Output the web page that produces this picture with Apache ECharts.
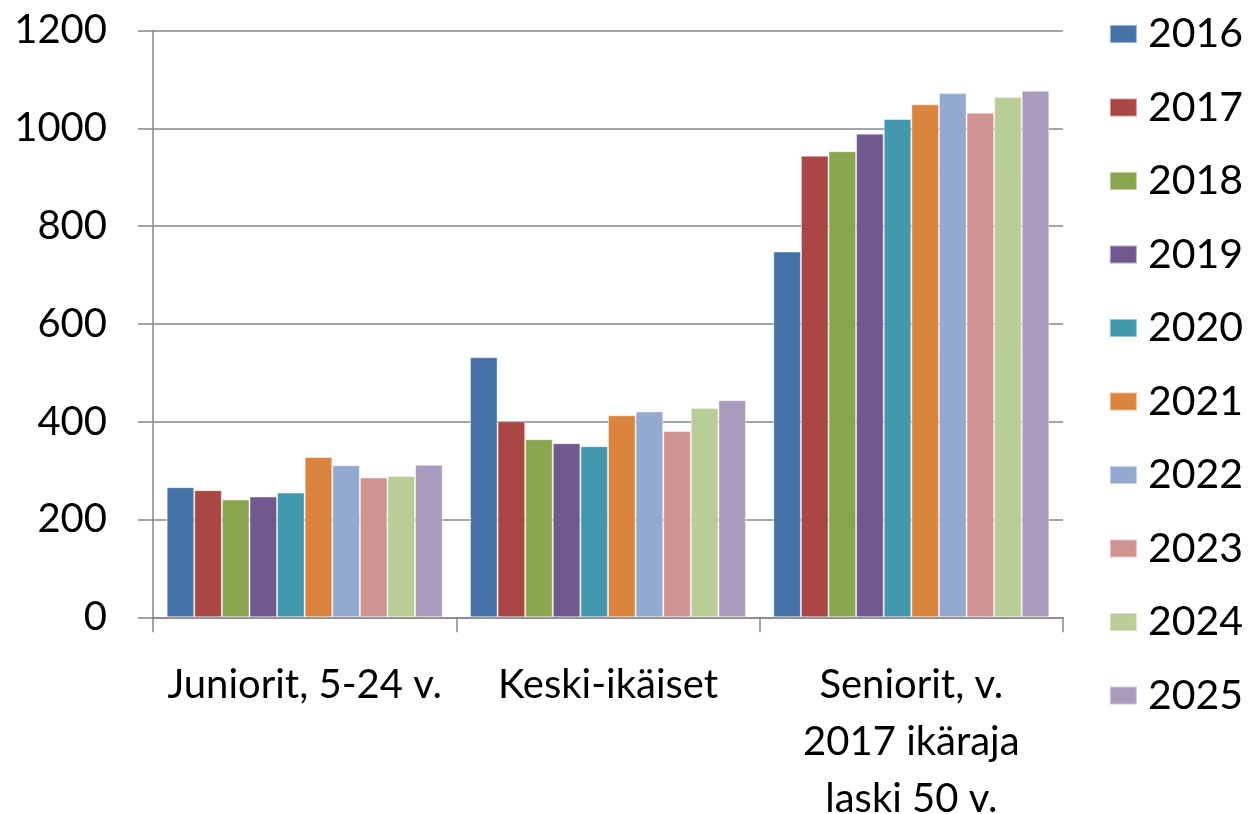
<!DOCTYPE html>
<html lang="fi">
<head>
<meta charset="utf-8">
<title>Jäsenmäärät ikäryhmittäin</title>
<script src="https://cdn.jsdelivr.net/npm/echarts@6/dist/echarts.min.js"></script>
<style>
  html, body { margin: 0; padding: 0; background: #fff; }
  #kaavio { width: 1250px; height: 814px; }
</style>
</head>
<body>
<div id="kaavio"></div>
<script>
// ryhmät (x-akseli)
var ryhmat = ['Juniorit, 5-24 v.', 'Keski-ikäiset', 'Seniorit, v.\n2017 ikäraja\nlaski 50 v.'];
var vuodet = ['2016', '2017', '2018', '2019', '2020', '2021', '2022', '2023', '2024', '2025'];
var varit = ['#4572A7', '#AA4643', '#89A54E', '#71588F', '#4198AF', '#DB843D', '#93A9CF', '#D19392', '#B9CD96', '#A99BBD'];

// arvot vuosittain: [juniorit, keski-ikäiset, seniorit]
var v2016 = [266, 532, 748];
var v2017 = [260, 401, 944];
var v2018 = [241, 364, 953];
var v2019 = [247, 356, 989];
var v2020 = [255, 350, 1019];
var v2021 = [328, 413, 1049];
var v2022 = [311, 421, 1072];
var v2023 = [286, 381, 1032];
var v2024 = [289, 428, 1064];
var v2025 = [312, 444, 1077];
var arvot = [v2016, v2017, v2018, v2019, v2020, v2021, v2022, v2023, v2024, v2025];

var fontti = 'Lato, "Open Sans", sans-serif';
var harmaa = '#878787';

var chart = echarts.init(document.getElementById('kaavio'));

var sarjat = vuodet.map(function (v, i) {
  return {
    name: v,
    type: 'bar',
    data: arvot[i],
    barGap: '0%',
    barCategoryGap: '9%',
    itemStyle: { color: varit[i], borderColor: 'rgba(255,255,255,0.45)', borderWidth: 1 },
    animation: false
  };
});

chart.setOption({
  animation: false,
  textStyle: { fontFamily: fontti },
  grid: { left: 153, right: 187, top: 30.5, bottom: 196.7, containLabel: false, outerBoundsMode: 'none' },
  legend: {
    orient: 'vertical',
    right: 2,
    top: 7,
    itemWidth: 27,
    itemHeight: 18,
    itemGap: 29.5,
    icon: 'rect',
    data: vuodet,
    textStyle: { fontFamily: fontti, fontSize: 41, color: '#000', lineHeight: 44, padding: [0, 0, 0, 6] }
  },
  xAxis: {
    type: 'category',
    data: ryhmat,
    axisLine: { lineStyle: { color: harmaa, width: 1.5 } },
    axisTick: { show: true, length: 15, lineStyle: { color: harmaa, width: 1.5 } },
    axisLabel: { fontFamily: fontti, fontSize: 40, color: '#000', margin: 39, lineHeight: 57, interval: 0 }
  },
  yAxis: {
    type: 'value',
    min: 0,
    max: 1200,
    interval: 200,
    axisLine: { show: true, lineStyle: { color: harmaa, width: 1.5 } },
    axisTick: { show: true, inside: false, length: 15, lineStyle: { color: harmaa, width: 1.5 } },
    splitLine: { lineStyle: { color: harmaa, width: 1.5 } },
    axisLabel: { fontFamily: fontti, fontSize: 40, color: '#000', margin: 46, formatter: function (v) { return String(v); } }
  },
  series: sarjat
});
</script>
</body>
</html>
